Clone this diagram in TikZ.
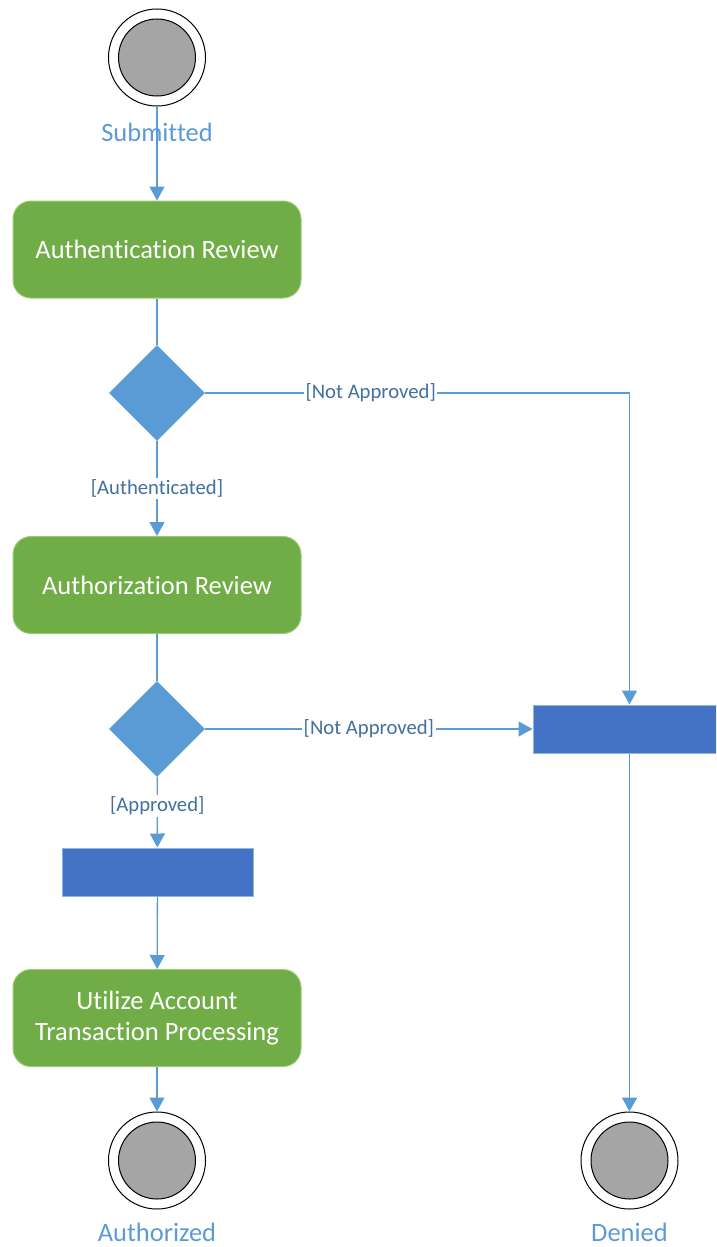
\documentclass[tikz,border=0pt]{standalone}
\usepackage{fontspec}
\setmainfont{Carlito}[Ligatures=NoCommon]
\usetikzlibrary{arrows.meta,shapes.geometric}
\definecolor{boxgreen}{HTML}{70AD47}
\definecolor{boxedge}{HTML}{9BCB73}
\definecolor{accent}{HTML}{5B9BD5}
\definecolor{barblue}{HTML}{4472C4}
\definecolor{baredge}{HTML}{8FB4E3}
\definecolor{labelblue}{HTML}{41719C}
\definecolor{endgray}{HTML}{A5A5A5}
\begin{document}
\begin{tikzpicture}[x=1pt,y=-1pt,
  activity/.style={rectangle, rounded corners=18pt, fill=boxgreen, draw=boxedge, line width=1pt,
    minimum width=288pt, minimum height=97pt, text=white, font=\fontsize{26.5}{31}\selectfont,
    align=center, inner sep=0pt},
  decision/.style={diamond, aspect=1, fill=accent, minimum width=96pt, minimum height=96pt, inner sep=0pt},
  syncbar/.style={rectangle, fill=barblue, draw=baredge, line width=1pt, minimum width=191pt,
    minimum height=48pt, inner sep=0pt},
  endouter/.style={circle, draw=black, fill=white, line width=1pt, minimum size=97pt, inner sep=0pt},
  endinner/.style={circle, draw=black, fill=endgray, line width=1pt, minimum size=77pt, inner sep=0pt},
  statelabel/.style={text=accent, font=\fontsize{26.5}{31}\selectfont, inner sep=0pt},
  guard/.style={fill=white, text=labelblue, font=\fontsize{20.7}{24}\selectfont, inner sep=1.5pt},
  link/.style={draw=accent, line width=1.3pt},
  flow/.style={link, -{Triangle[width=15pt,length=14pt]}}
]
\useasboundingbox (0,0) rectangle (716,1247);
\clip (0,0) rectangle (716,1247);

% nodes
\node[endouter] (start) at (157,57.5) {};
\node[endinner] (starti) at (157,57.5) {};
\node[statelabel] (lsub) at (157,132) {Submitted};
\node[activity] (auth) at (157,249.5) {Authentication Review};
\node[decision] (d1) at (157,393) {};
\node[activity] (authz) at (157,585) {Authorization Review};
\node[decision] (d2) at (157,729) {};
\node[syncbar] (barL) at (157.5,872) {};
\node[syncbar, minimum width=193pt] (barR) at (629.5,729) {};
\node[activity] (util) at (157,1018) {Utilize Account\\Transaction Processing};
\node[endouter] (endA) at (157,1160.5) {};
\node[endinner] (endAi) at (157,1160.5) {};
\node[statelabel] (lauth) at (157,1232) {Authorized};
\node[endouter] (endD) at (629.5,1160.5) {};
\node[endinner] (endDi) at (629.5,1160.5) {};
\node[statelabel] (lden) at (629.5,1232) {Denied};

% connectors
\draw[flow] (start) -- (auth);
\draw[link] (auth) -- (d1);
\draw[flow] (d1) -- node[guard, pos=0.5]{[Authenticated]} (authz);
\draw[flow] (d1.east) -- node[guard, pos=0.39]{[Not Approved]} (d1.east -| barR.north) -- (barR.north);
\draw[link] (authz) -- (d2);
\draw[flow] (d2.east) -- node[guard, pos=0.5]{[Not Approved]} (barR.west);
\draw[flow] (d2) -- node[guard, pos=0.41]{[Approved]} (barL);
\draw[flow] (barL) -- (util);
\draw[flow] (util) -- (endA);
\draw[flow] (barR) -- (endD);
\end{tikzpicture}
\end{document}
